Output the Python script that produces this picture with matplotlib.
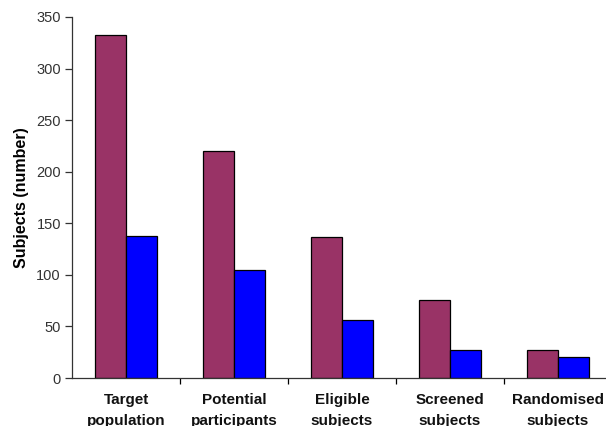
import numpy as np
import matplotlib
matplotlib.use('Agg')
import matplotlib.pyplot as plt

categories = ['Target\npopulation', 'Potential\nparticipants', 'Eligible\nsubjects',
              'Screened\nsubjects', 'Randomised\nsubjects']
series_a = [333, 220, 137, 76, 27]
series_b = [138, 105, 56, 27, 20]
yticks = [0, 50, 100, 150, 200, 250, 300, 350]

plt.rcParams['font.family'] = ['Liberation Sans', 'DejaVu Sans']

W, H = 606, 426
fig = plt.figure(figsize=(W / 100, H / 100), dpi=100)
ax = fig.add_axes([72 / W, (H - 378) / H, 540 / W, 361 / H])

x = np.arange(len(categories))
width = 1 / 3.5
ax.bar(x - width / 2, series_a, width, color='#993366', edgecolor='black', linewidth=0.9)
ax.bar(x + width / 2, series_b, width, color='#0000FF', edgecolor='black', linewidth=0.9)

ax.set_xlim(-0.5, len(categories) - 0.5)
ax.set_ylim(0, 350)
ax.set_yticks(yticks)
ax.tick_params(axis='y', labelsize=10.5, length=5, width=0.9, pad=3, colors='#333333')

ax.set_xticks(np.arange(0.5, len(categories) - 0.5, 1))
ax.set_xticklabels([])
ax.tick_params(axis='x', length=4, width=0.9)
for i, lab in enumerate(categories):
    ax.text(i, -15, lab, ha='center', va='top', fontsize=11, fontweight='bold',
            linespacing=1.55, color='#111111')

ax.set_ylabel('Subjects (number)', fontsize=11.5, fontweight='bold', labelpad=5)
for s in ['top', 'right']:
    ax.spines[s].set_visible(False)
for s in ['left', 'bottom']:
    ax.spines[s].set_linewidth(0.9)
    ax.spines[s].set_color('#333333')

fig.savefig('out.png', dpi=100)
